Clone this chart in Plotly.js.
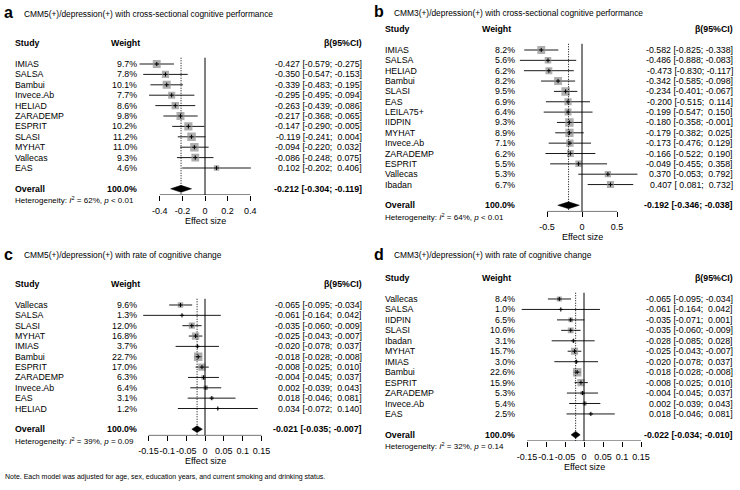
<!DOCTYPE html>
<html>
<head>
<meta charset="utf-8">
<script src="https://cdn.plot.ly/plotly-3.0.1.min.js"></script>
<style>html,body{margin:0;padding:0;background:#fff}#chart{width:740px;height:490px}</style>
</head>
<body>
<div id="chart"></div>
<script>
const W = 740, H = 490;
const FONT = "Liberation Sans, Arial, sans-serif";
const px = p => p / W;
const py = p => 1 - p / H;

// ----- data -----
// a: CMM5(+)/depression(+), cross-sectional
const aStudies = ["IMIAS", "SALSA", "Bambui", "Invece.Ab", "HELIAD", "ZARADEMP", "ESPRIT", "SLASI", "MYHAT", "Vallecas", "EAS"];
const aWeights = [9.7, 7.8, 10.1, 7.7, 8.6, 9.8, 10.2, 11.2, 11.0, 9.3, 4.6];
const aEst = [-0.427, -0.350, -0.339, -0.295, -0.263, -0.217, -0.147, -0.119, -0.094, -0.086, 0.102];
const aLow = [-0.579, -0.547, -0.483, -0.495, -0.439, -0.368, -0.290, -0.241, -0.220, -0.248, -0.202];
const aHigh = [-0.275, -0.153, -0.195, -0.094, -0.086, -0.065, -0.005, 0.004, 0.032, 0.075, 0.406];
const aOverall = [-0.212, -0.304, -0.119];
const aTicks = [-0.4, -0.2, 0, 0.2, 0.4];

// b: CMM3(+)/depression(+), cross-sectional
const bStudies = ["IMIAS", "SALSA", "HELIAD", "Bambui", "SLASI", "EAS", "LEILA75+", "IIDPIN", "MYHAT", "Invece.Ab", "ZARADEMP", "ESPRIT", "Vallecas", "Ibadan"];
const bWeights = [8.2, 5.6, 6.2, 8.2, 9.5, 6.9, 6.4, 9.3, 8.9, 7.1, 6.2, 5.5, 5.3, 6.7];
const bEst = [-0.582, -0.486, -0.473, -0.342, -0.234, -0.200, -0.199, -0.180, -0.179, -0.173, -0.166, -0.049, 0.370, 0.407];
const bLow = [-0.825, -0.888, -0.830, -0.585, -0.401, -0.515, -0.547, -0.358, -0.382, -0.476, -0.522, -0.455, -0.053, 0.081];
const bHigh = [-0.338, -0.083, -0.117, -0.098, -0.067, 0.114, 0.150, -0.001, 0.025, 0.129, 0.190, 0.358, 0.792, 0.732];
const bOverall = [-0.192, -0.346, -0.038];
const bTicks = [-0.5, 0, 0.5];

// c: CMM5(+)/depression(+), rate of change
const cStudies = ["Vallecas", "SALSA", "SLASI", "MYHAT", "IMIAS", "Bambui", "ESPRIT", "ZARADEMP", "Invece.Ab", "EAS", "HELIAD"];
const cWeights = [9.6, 1.3, 12.0, 16.8, 3.7, 22.7, 17.0, 6.3, 6.4, 3.1, 1.2];
const cEst = [-0.065, -0.061, -0.035, -0.025, -0.020, -0.018, -0.008, -0.004, 0.002, 0.018, 0.034];
const cLow = [-0.095, -0.164, -0.060, -0.043, -0.078, -0.028, -0.025, -0.045, -0.039, -0.046, -0.072];
const cHigh = [-0.034, 0.042, -0.009, -0.007, 0.037, -0.008, 0.010, 0.037, 0.043, 0.081, 0.140];
const cOverall = [-0.021, -0.035, -0.007];
const cTicks = [-0.15, -0.1, -0.05, 0, 0.05, 0.1, 0.15];

// d: CMM3(+)/depression(+), rate of change
const dStudies = ["Vallecas", "SALSA", "IIDPIN", "SLASI", "Ibadan", "MYHAT", "IMIAS", "Bambui", "ESPRIT", "ZARADEMP", "Invece.Ab", "EAS"];
const dWeights = [8.4, 1.0, 6.5, 10.6, 3.1, 15.7, 3.0, 22.6, 15.9, 5.3, 5.4, 2.5];
const dEst = [-0.065, -0.061, -0.035, -0.035, -0.028, -0.025, -0.020, -0.018, -0.008, -0.004, 0.002, 0.018];
const dLow = [-0.095, -0.164, -0.071, -0.060, -0.085, -0.043, -0.078, -0.028, -0.025, -0.045, -0.039, -0.046];
const dHigh = [-0.034, 0.042, 0.001, -0.009, 0.028, -0.007, 0.037, -0.008, 0.010, 0.037, 0.043, 0.081];
const dOverall = [-0.022, -0.034, -0.010];
const dTicks = [-0.15, -0.1, -0.05, 0, 0.05, 0.1, 0.15];

const hetI2 = [62, 64, 39, 32];
const hetP = ["< 0.01", "< 0.01", "= 0.09", "= 0.14"];

// ----- panel geometry (pixels) -----
const left = { studyX: 13, weightHeadX: 109, weightRX: 139, ciRX: 364, labelX: 2, titleX: 22 };
const right = { studyX: 383, weightHeadX: 480, weightRX: 517, ciRX: 735, labelX: 372, titleX: 392 };

const panels = [
  { lab: "a", title: "CMM5(+)/depression(+) with cross-sectional cognitive performance",
    studies: aStudies, weights: aWeights, est: aEst, low: aLow, high: aHigh, overall: aOverall, ticks: aTicks,
    g: { ...left, titleY: 14, row0: 64, sp: 10.4, zero: 205, scale: 113, dom: [128, 282] } },
  { lab: "b", title: "CMM3(+)/depression(+) with cross-sectional cognitive performance",
    studies: bStudies, weights: bWeights, est: bEst, low: bLow, high: bHigh, overall: bOverall, ticks: bTicks,
    g: { ...right, titleY: 13, row0: 50, sp: 10.35, zero: 582, scale: 70, dom: [512, 655] } },
  { lab: "c", title: "CMM5(+)/depression(+) with rate of cognitive change",
    studies: cStudies, weights: cWeights, est: cEst, low: cLow, high: cHigh, overall: cOverall, ticks: cTicks,
    g: { ...left, titleY: 255, row0: 305, sp: 10.35, zero: 205, scale: 377, dom: [132, 282] } },
  { lab: "d", title: "CMM3(+)/depression(+) with rate of cognitive change",
    studies: dStudies, weights: dWeights, est: dEst, low: dLow, high: dHigh, overall: dOverall, ticks: dTicks,
    g: { ...right, titleY: 255, row0: 299, sp: 10.45, zero: 584, scale: 380, dom: [512, 662] } }
];

const fmt = v => v.toFixed(3);
const pad = v => (v >= 0 ? "\u00a0" : "") + v.toFixed(3);
const ciText = (e, l, h) => `${fmt(e)} [${pad(l)}; ${pad(h)}]`;

const traces = [], shapes = [], annotations = [];
const layout = {
  width: W, height: H,
  margin: { l: 0, r: 0, t: 0, b: 0 },
  paper_bgcolor: "#fff", plot_bgcolor: "rgba(0,0,0,0)",
  font: { family: FONT, color: "#000", size: 9 },
  showlegend: false
};

const note = (text, xPx, yPx, anchor, size) => annotations.push({
  text, x: px(xPx), xref: "paper", y: py(yPx), yref: "paper",
  xanchor: anchor, yanchor: "middle", showarrow: false,
  font: { size, color: "#000" }
});

panels.forEach((pn, k) => {
  const sfx = k === 0 ? "" : String(k + 1);
  const xa = "x" + sfx, ya = "y" + sfx;
  const g = pn.g;
  const n = pn.studies.length;
  const rows = pn.studies.map((_, i) => i);
  const yTop = -1, yBot = n + 1.6;
  const rowPx = v => g.row0 + v * g.sp;
  const topPx = rowPx(yTop), botPx = rowPx(yBot);

  layout["xaxis" + sfx] = {
    domain: [px(g.dom[0]), px(g.dom[1])],
    range: [(g.dom[0] - g.zero) / g.scale, (g.dom[1] - g.zero) / g.scale],
    anchor: ya, showgrid: false, zeroline: false, showline: false,
    ticks: "outside", ticklen: 5, tickwidth: 1, tickcolor: "#000",
    tickvals: pn.ticks, ticktext: pn.ticks.map(String), tickangle: 0,
    ticklabelstandoff: 2,
    tickfont: { size: 9, color: "#000" },
    automargin: false, fixedrange: true
  };
  layout["yaxis" + sfx] = {
    domain: [py(botPx), py(topPx)],
    range: [yBot, yTop], anchor: xa, visible: false, fixedrange: true
  };

  // CI lines
  traces.push({
    type: "scatter", mode: "markers", xaxis: xa, yaxis: ya,
    x: pn.est, y: rows,
    marker: { size: 1, color: "rgba(0,0,0,0)" },
    error_x: {
      type: "data", symmetric: false,
      array: pn.high.map((h, i) => h - pn.est[i]),
      arrayminus: pn.low.map((l, i) => pn.est[i] - l),
      color: "#1a1a1a", thickness: 1, width: 0
    },
    hoverinfo: "skip"
  });
  // weight squares
  const wMax = Math.max(...pn.weights);
  traces.push({
    type: "scatter", mode: "markers", xaxis: xa, yaxis: ya,
    x: pn.est, y: rows,
    marker: { symbol: "square", size: pn.weights.map(w => 8.5 * Math.sqrt(w / wMax)), color: "#8c8c8c", line: { width: 0 } },
    hoverinfo: "skip"
  });
  // point estimate ticks
  traces.push({
    type: "scatter", mode: "markers", xaxis: xa, yaxis: ya,
    x: pn.est, y: rows,
    marker: { symbol: "cross-thin", size: 3, line: { width: 1, color: "#000" } },
    hoverinfo: "skip"
  });
  // overall diamond
  const [oe, ol, oh] = pn.overall;
  const r = n + 1;
  traces.push({
    type: "scatter", mode: "lines", xaxis: xa, yaxis: ya,
    x: [ol, oe, oh, oe, ol], y: [r, r - 0.33, r, r + 0.33, r],
    fill: "toself", fillcolor: "#000", line: { color: "#000", width: 0.5 },
    hoverinfo: "skip"
  });

  // reference lines + axis line
  shapes.push({ type: "line", xref: xa, yref: ya, x0: 0, x1: 0, y0: -0.6, y1: yBot, line: { color: "#000", width: 1 } });
  shapes.push({ type: "line", xref: xa, yref: ya, x0: oe, x1: oe, y0: -0.6, y1: yBot, line: { color: "#000", width: 1, dash: "1px,1.5px" } });
  shapes.push({ type: "line", xref: xa, yref: ya, x0: pn.ticks[0], x1: pn.ticks[pn.ticks.length - 1], y0: yBot, y1: yBot, line: { color: "#000", width: 1 } });

  // titles
  note(`<b>${pn.lab}</b>`, g.labelX, g.titleY - 1, "left", 16);
  note(pn.title, g.titleX, g.titleY, "left", 8.4);

  // headers
  note("<b>Study</b>", g.studyX, rowPx(-2), "left", 8.8);
  note("<b>Weight</b>", g.weightHeadX, rowPx(-2), "left", 8.8);
  note("<b>β(95%CI)</b>", g.ciRX, rowPx(-2), "right", 8.8);

  // study rows
  pn.studies.forEach((s, i) => {
    note(s, g.studyX, rowPx(i), "left", 8.8);
    note(pn.weights[i].toFixed(1) + "%", g.weightRX, rowPx(i), "right", 8.8);
    note(ciText(pn.est[i], pn.low[i], pn.high[i]), g.ciRX, rowPx(i), "right", 8.8);
  });

  const wSum = pn.weights.reduce((s, w) => s + w, 0);
  note("<b>Overall</b>", g.studyX, rowPx(r), "left", 8.8);
  note(`<b>${Math.round(wSum).toFixed(1)}%</b>`, g.weightRX, rowPx(r), "right", 8.8);
  note(`<b>${ciText(oe, ol, oh)}</b>`, g.ciRX, rowPx(r), "right", 8.8);
  note(`Heterogeneity: <i>I</i><sup>2</sup> = ${hetI2[k]}%, <i>p</i> ${hetP[k].replace("<", "&lt;")}`,
    g.studyX, rowPx(r + 1.1), "left", 8);

  // axis title
  const mid = g.zero + g.scale * (pn.ticks[0] + pn.ticks[pn.ticks.length - 1]) / 2;
  note("Effect size", mid, botPx + 26, "center", 9);
});

note("Note. Each model was adjusted for age, sex, education years, and current smoking and drinking status.", 3, 477, "left", 7);

layout.shapes = shapes;
layout.annotations = annotations;

Plotly.newPlot("chart", traces, layout, { displayModeBar: false, staticPlot: true });
</script>
</body>
</html>
